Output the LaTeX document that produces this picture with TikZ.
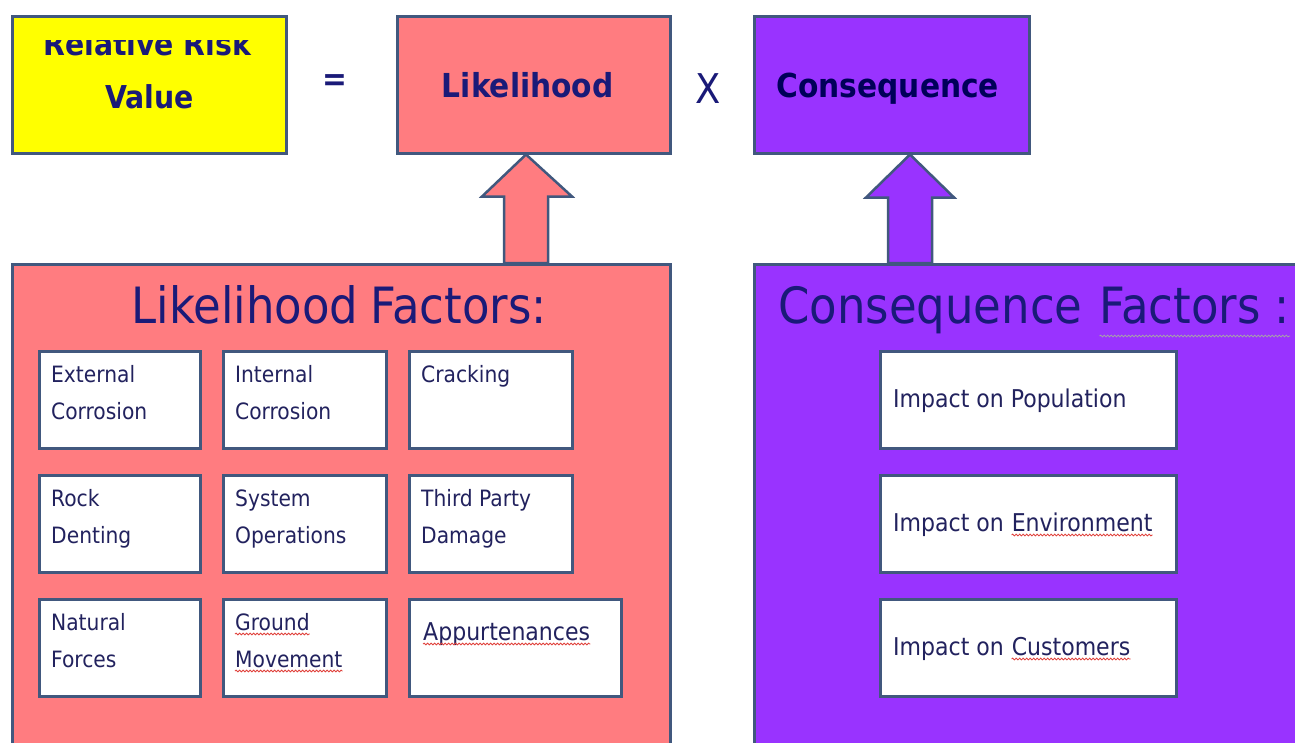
\documentclass[tikz,border=0pt]{standalone}
\usepackage{fontspec}
\setmainfont{DejaVu Sans Condensed}
\usetikzlibrary{calc,decorations.pathmorphing}
\definecolor{salmon}{HTML}{FF7C80}
\definecolor{violet2}{HTML}{9933FF}
\definecolor{yel}{HTML}{FFFF00}
\definecolor{edge}{HTML}{41587E}
\definecolor{navy}{HTML}{1A1A78}
\definecolor{ink}{HTML}{22225E}
\definecolor{squig}{HTML}{E0403A}
\tikzset{
  box/.style={draw=edge, line width=2.5pt, rectangle, inner sep=0pt, anchor=north west},
  topbox/.style={box, minimum width=273pt, minimum height=137pt},
  factorbox/.style={box, fill=white, minimum height=97pt},
  ftext/.style={inner sep=0pt, anchor=base west, text=ink, font=\fontsize{22.5}{27}\selectfont},
  ctext/.style={ftext, font=\fontsize{24.5}{29}\selectfont},
  headtxt/.style={inner sep=0pt, anchor=base, text=navy, font=\bfseries\fontsize{33}{40}\selectfont},
  titletxt/.style={inner sep=0pt, anchor=base west, text=navy, font=\fontsize{50}{58}\selectfont},
  opsign/.style={inner sep=0pt, text=navy},
  bigarrow/.style={draw=edge, line width=2.5pt, line join=miter},
  spell/.style={draw=squig, line width=0.8pt, decorate, decoration={snake, segment length=3.5pt, amplitude=0.9pt}},
  spellgray/.style={spell, draw=gray!70}
}
\newcommand\factor[7]{%
  \node[factorbox, minimum width=#4pt] (#1) at (#2,#3) {};
  \node[ftext] (#1a) at ($(#1.north west)+(13,32)$) {#6};
  \node[ftext] (#1b) at ($(#1.north west)+(13,69)$) {#7};
}
\begin{document}
\begin{tikzpicture}[x=1pt,y=-1pt]
\useasboundingbox (0,0) rectangle (1295,742);
\clip (0,0) rectangle (1295,742);
\fill[white] (0,0) rectangle (1295,742);

% ---------- top row ----------
\node[topbox, fill=yel, minimum width=274pt] (YB) at (11,15) {};
\begin{scope}
  \clip ($(YB.north west)+(0,25)$) rectangle (YB.south east);
  \node[headtxt, font=\bfseries\fontsize{31.5}{38}\selectfont] (rr) at ($(YB.north)+(-2,40)$) {Relative Risk};
\end{scope}
\node[headtxt, font=\bfseries\fontsize{31.5}{38}\selectfont] (val) at ($(YB.north)+(0,93)$) {Value};
\node[opsign, font=\bfseries\fontsize{33}{40}\selectfont] (eq) at (335,83) {=};
\node[topbox, fill=salmon] (LB) at (396,15) {};
\node[headtxt] (lbt) at ($(LB.north)+(-6,82)$) {Likelihood};
\node[opsign, font=\fontsize{41}{48}\selectfont] (times) at (708,89) {X};
\node[topbox, fill=violet2, minimum width=275pt] (CB) at (753,15) {};
\node[headtxt, text=blue!35!black] (cbt) at ($(CB.north)+(-4,82)$) {Consequence};

% ---------- panels ----------
\node[box, fill=salmon, minimum width=658pt, minimum height=520pt] (LF) at (11,263) {};
\node[box, fill=violet2, minimum width=600pt, minimum height=520pt] (CF) at (753,263) {};

% ---------- block arrows ----------
\coordinate (lt) at ($(LB.south west)+(130,0)$);
\draw[bigarrow, fill=salmon] (lt) -- ($(lt)+(46,42)$) -- ($(lt)+(22,42)$)
  -- ($(lt|-LF.north)+(22,0)$) -- ($(lt|-LF.north)+(-22,0)$)
  -- ($(lt)+(-22,42)$) -- ($(lt)+(-44,42)$) -- cycle;
\coordinate (ct) at ($(CB.south west)+(157,0)$);
\draw[bigarrow, fill=violet2] (ct) -- ($(ct)+(44,43)$) -- ($(ct)+(22,43)$)
  -- ($(ct|-CF.north)+(22,0)$) -- ($(ct|-CF.north)+(-22,0)$)
  -- ($(ct)+(-22,43)$) -- ($(ct)+(-44,43)$) -- cycle;

% ---------- titles ----------
\node[titletxt, anchor=base] (lft) at ($(LF.north)+(-2,60)$) {Likelihood\hspace{0.25em}Factors:};
\node[titletxt] (cft1) at (778,323) {Consequence};
\node[titletxt] (cft2) at ($(cft1.base east)+(17,0)$) {Factors :};
\draw[spellgray] ($(cft2.base west)+(0,13)$) -- ($(cft2.base east)+(0,13)$);

% ---------- likelihood factor boxes ----------
\factor{f11}{38}{350}{161}{97}{External}{Corrosion}
\factor{f12}{222}{350}{163}{97}{Internal}{Corrosion}
\factor{f13}{408}{350}{163}{97}{Cracking}{}
\factor{f21}{38}{474}{161}{97}{Rock}{Denting}
\factor{f22}{222}{474}{163}{97}{System}{Operations}
\factor{f23}{408}{474}{163}{97}{Third Party}{Damage}
\factor{f31}{38}{598}{161}{97}{Natural}{Forces}
\factor{f32}{222}{598}{163}{97}{Ground}{Movement}
\node[factorbox, minimum width=212pt] (f33) at (408,598) {};
\node[ftext, font=\fontsize{24.5}{29}\selectfont] (f33a) at ($(f33.north west)+(15,42)$) {Appurtenances};
\draw[spell] ($(f32a.base west)+(0,4)$) -- ($(f32a.base east)+(0,4)$);
\draw[spell] ($(f32b.base west)+(0,4)$) -- ($(f32b.base east)+(0,4)$);
\draw[spell] ($(f33a.base west)+(0,4)$) -- ($(f33a.base east)+(0,4)$);

% ---------- consequence factor boxes ----------
\node[factorbox, minimum width=296pt] (c1) at (879,350) {};
\node[factorbox, minimum width=296pt] (c2) at (879,474) {};
\node[factorbox, minimum width=296pt] (c3) at (879,598) {};
\node[ctext] (c1t) at ($(c1.north west)+(14,57)$) {Impact on Population};
\node[ctext] (c2t) at ($(c2.north west)+(14,57)$) {Impact on};
\node[ctext] (c2w) at ($(c2t.base east)+(7.5,0)$) {Environment};
\node[ctext] (c3t) at ($(c3.north west)+(14,57)$) {Impact on};
\node[ctext] (c3w) at ($(c3t.base east)+(7.5,0)$) {Customers};
\draw[spell] ($(c2w.base west)+(0,4)$) -- ($(c2w.base east)+(0,4)$);
\draw[spell] ($(c3w.base west)+(0,4)$) -- ($(c3w.base east)+(0,4)$);
\end{tikzpicture}
\end{document}
